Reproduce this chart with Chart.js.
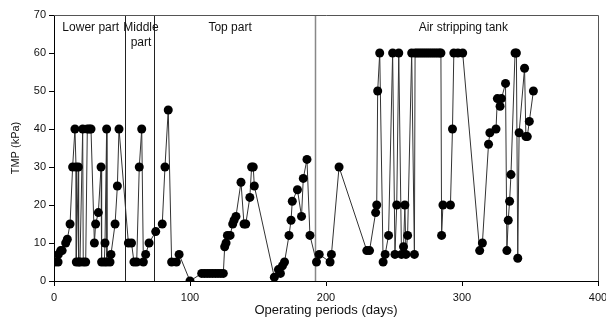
<!DOCTYPE html>
<html>
<head>
<meta charset="utf-8">
<script src="https://cdn.jsdelivr.net/npm/chart.js@4"></script>
<style>
  body { margin: 0; background: #fff; }
  #wrap { width: 606px; height: 331px; }
</style>
</head>
<body>
<div id="wrap"><canvas id="tmpChart" width="606" height="331"></canvas></div>
<script>
const days = [
  0.7, 3, 3.2, 4.9, 6, 8.6, 9.8, 11.8, 13.7, 15.4, 16.2, 16.4, 17.9, 18.1, 19.1, 21.1, 21.5, 23.3, 24.5, 26,
  27.2, 29.7, 30.6, 32.6, 34.6, 35, 37, 37.5, 38.7, 38.9, 41.2, 41.9, 44.9, 46.6, 47.8,
  54.7, 57, 58.8, 60.8, 62.7, 64.5, 65.7, 67.4, 69.9,
  74.8, 79.6, 81.6, 84, 86.5, 90, 92, 100, 108.6, 110.6, 112.6, 114.6, 116.6, 118.6, 120.6, 122.6, 124.5,
  125.5, 126.5, 127.5, 129.5, 131.4, 132.4, 133.8, 137.5, 139.7, 141, 144, 145.3, 146.5, 147.3,
  162, 165, 166.5, 168, 169.5, 172.8, 174.3, 175.2, 179, 182, 183.3, 186, 188.2,
  193, 195, 203, 204, 209.6, 230, 232, 236.5, 237.3, 238, 239.5, 242, 243.5, 246, 249, 250.7, 252, 253.5,
  255.5, 257, 258, 258.8, 260, 263, 265, 265.5, 267, 268.5, 270, 271.5, 273, 274.5, 276, 277.5, 279,
  280.5, 282, 283.5, 284.5, 285, 286, 291.5, 293, 294, 297, 300.5,
  313, 315, 319.5, 320.5, 325, 326, 328, 329, 332, 333, 334, 335, 336, 339, 340, 341, 342, 346, 347, 348, 349.5, 352.5
];
const tmp = [
  5, 5, 7, 8, 8, 10, 11, 15, 30, 40, 30, 5, 30, 5, 5, 40, 5, 5, 40, 40,
  40, 10, 15, 18, 30, 5, 5, 10, 40, 5, 5, 7, 15, 25, 40,
  10, 10, 5, 5, 30, 40, 5, 7, 10,
  13, 15, 30, 45, 5, 5, 7, 0, 2, 2, 2, 2, 2, 2, 2, 2, 2,
  9, 10, 12, 12, 15, 16, 17, 26, 15, 15, 22, 30, 30, 25,
  1, 3, 2, 4, 5, 12, 16, 21, 24, 17, 27, 32, 12,
  5, 7, 5, 7, 30, 8, 8, 18, 20, 50, 60, 5, 7, 12, 60, 7, 20, 60,
  7, 9, 20, 7, 12, 60, 7, 60, 60, 60, 60, 60, 60, 60, 60, 60, 60,
  60, 60, 60, 60, 12, 20, 20, 40, 60, 60, 60,
  8, 10, 36, 39, 40, 48, 46, 48, 52, 8, 16, 21, 28, 60, 60, 6, 39, 56, 38, 38, 42, 50
];

// reactor section boundaries (days) and their labels
const dividers = [52.2, 73.8, 192];
const dividerColors = ['#222', '#222', '#888'];
const sectionNames = [['Lower part'], ['Middle', 'part'], ['Top part'], ['Air stripping tank']];
const sectionLabelX = [27, 64, 129.5, 301];

const points = days.map((d, i) => ({x: d, y: tmp[i]}));

const sectionPlugin = {
  id: 'sections',
  beforeDatasetsDraw(chart) {
    const {ctx, chartArea, scales} = chart;
    ctx.save();
    dividers.forEach((d, i) => {
      const px = Math.round(scales.x.getPixelForValue(d)) + 0.5;
      ctx.strokeStyle = dividerColors[i];
      ctx.lineWidth = i === 2 ? 1.5 : 1;
      ctx.beginPath();
      ctx.moveTo(px, chartArea.top);
      ctx.lineTo(px, chartArea.bottom);
      ctx.stroke();
    });
    ctx.fillStyle = '#111';
    ctx.font = '12px "Liberation Sans", Arial, sans-serif';
    ctx.textAlign = 'center';
    ctx.textBaseline = 'middle';
    sectionNames.forEach((lines, i) => {
      const px = scales.x.getPixelForValue(sectionLabelX[i]);
      lines.forEach((t, j) => {
        ctx.fillText(t, px, chartArea.top + 13 + j * 15);
      });
    });
    ctx.restore();
  },
  afterDraw(chart) {
    const {ctx, chartArea} = chart;
    ctx.save();
    ctx.strokeStyle = '#555';
    ctx.lineWidth = 1;
    ctx.beginPath();
    ctx.moveTo(chartArea.left, chartArea.top + 0.5);
    ctx.lineTo(chartArea.right + 0.5, chartArea.top + 0.5);
    ctx.lineTo(chartArea.right + 0.5, chartArea.bottom);
    ctx.stroke();
    ctx.restore();
  }
};

const tickFont = {family: '"Liberation Sans", Arial, sans-serif', size: 11};

new Chart(document.getElementById('tmpChart'), {
  type: 'scatter',
  data: {
    datasets: [{
      data: points,
      showLine: true,
      borderColor: '#333',
      borderWidth: 1,
      pointRadius: 4.5,
      pointBackgroundColor: '#000',
      pointBorderColor: '#000',
      pointBorderWidth: 0
    }]
  },
  options: {
    responsive: false,
    animation: false,
    layout: {padding: {top: 15, right: 8, left: 9, bottom: 13}},
    plugins: {legend: {display: false}, tooltip: {enabled: false}},
    scales: {
      x: {
        type: 'linear', min: 0, max: 400,
        ticks: {stepSize: 100, color: '#111', font: tickFont, padding: 5, maxRotation: 0},
        grid: {drawOnChartArea: false, drawTicks: true, tickLength: 5, color: '#000'},
        border: {color: '#000', width: 1},
        title: {display: true, text: 'Operating periods (days)', color: '#111',
                font: {family: '"Liberation Sans", Arial, sans-serif', size: 13}, padding: {top: 4, bottom: 0}},
        afterFit(scale) { scale.height = 37; scale.paddingLeft = 0; scale.paddingRight = 0; }
      },
      y: {
        min: 0, max: 70,
        ticks: {stepSize: 10, color: '#111', font: tickFont, padding: 3},
        grid: {drawOnChartArea: false, drawTicks: true, tickLength: 5, color: '#000'},
        border: {color: '#000', width: 1},
        title: {display: true, text: 'TMP (kPa)', color: '#111', font: tickFont, padding: {top: 0, bottom: 4}},
        afterFit(scale) { scale.width = 45; scale.paddingTop = 0; scale.paddingBottom = 0; }
      }
    }
  },
  plugins: [sectionPlugin]
});
</script>
</body>
</html>
